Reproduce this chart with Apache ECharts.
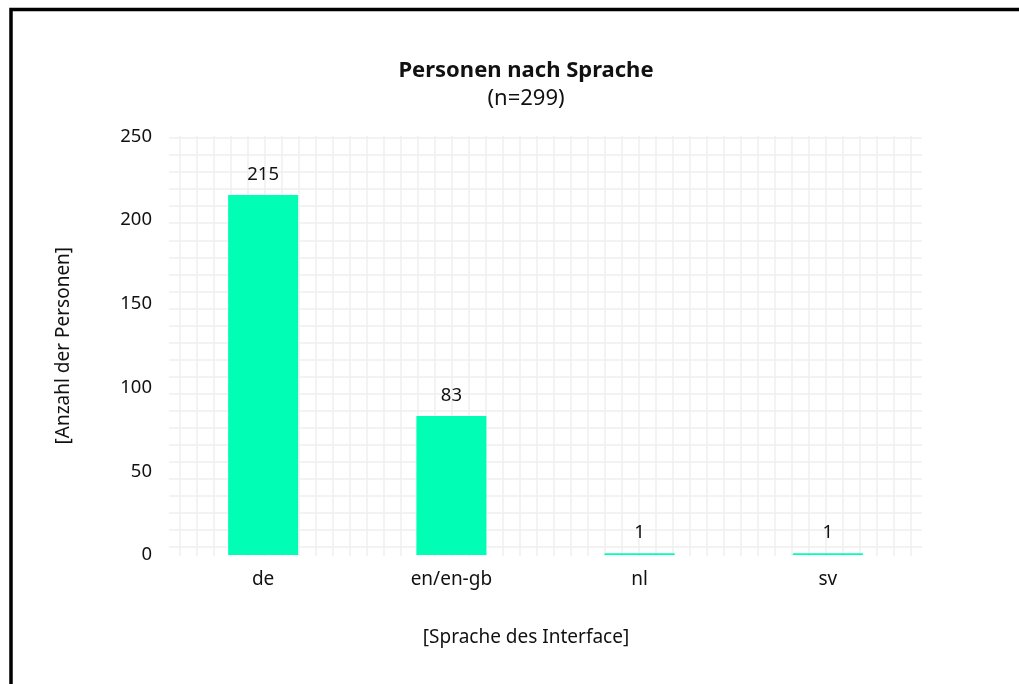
<!DOCTYPE html>
<html>
<head>
<meta charset="utf-8">
<script src="https://cdn.jsdelivr.net/npm/echarts@6/dist/echarts.min.js"></script>
<style>html,body{margin:0;padding:0;background:#fff;}#c{width:1019px;height:684px;}</style>
</head>
<body>
<div id="c"></div>
<script>
const categories = ['de', 'en/en-gb', 'nl', 'sv'];
const personen = [215, 83, 1, 1];
const yMin = 0, yMax = 250, yStep = 50;
const titleText = 'Personen nach Sprache';
const subText = '(n=299)';
const xName = '[Sprache des Interface]';
const yName = '[Anzahl der Personen]';

const FONT = 'Noto Sans';
const gridColor = '#efefef';
const chart = echarts.init(document.getElementById('c'), null, {renderer: 'canvas'});
const hidden = {axisLine:{show:false}, axisTick:{show:false}, axisLabel:{show:false}};
chart.setOption({
  backgroundColor: '#fff',
  animation: false,
  textStyle: {fontFamily: FONT},
  graphic: [{
    type: 'rect', silent: true, z: 100,
    shape: {x: 11, y: 9.5, width: 1200, height: 900},
    style: {fill: 'none', stroke: '#000', lineWidth: 3.5}
  }],
  title: [{
    text: titleText, subtext: subText,
    left: 521, top: 55, textAlign: 'center', itemGap: 6,
    textStyle: {fontFamily: FONT, fontSize: 22, fontWeight: 'bold', color: '#111'},
    subtextStyle: {fontFamily: FONT, fontSize: 22, color: '#111'}
  }, {
    text: xName, left: 521, top: 623, textAlign: 'center',
    textStyle: {fontFamily: FONT, fontSize: 19, fontWeight: 'normal', color: '#111'}
  }],
  grid: [
    {left: 169, right: 97, top: 136.4, bottom: 129},
    {left: 180, right: 108, top: 136, bottom: 128},
    {left: 169, right: 97, top: 138, bottom: 137}
  ],
  xAxis: [
    {type: 'category', gridIndex: 0, data: categories,
     axisLine:{show:false}, axisTick:{show:false},
     axisLabel:{fontFamily: FONT, fontSize: 19, color: '#111', margin: 15}},
    Object.assign({type: 'value', gridIndex: 1, min: 0, max: 43, interval: 1,
     splitLine:{show:true, lineStyle:{color: gridColor, width: 1.5}}}, hidden),
    Object.assign({type: 'value', gridIndex: 2, min: 0, max: 1, splitLine:{show:false}}, hidden)
  ],
  yAxis: [
    {type: 'value', gridIndex: 0, min: yMin, max: yMax, interval: yStep,
     name: yName, nameLocation: 'middle', nameGap: 96, nameRotate: 90,
     nameTextStyle: {fontFamily: FONT, fontSize: 19, color: '#111'},
     axisLine:{show:false}, axisTick:{show:false}, splitLine:{show:false},
     axisLabel:{fontFamily: FONT, fontSize: 18.5, color: '#111', margin: 17}},
    Object.assign({type: 'value', gridIndex: 1, min: 0, max: 1, splitLine:{show:false}}, hidden),
    Object.assign({type: 'value', gridIndex: 2, min: 0, max: 24, interval: 1,
     splitLine:{show:true, lineStyle:{color: gridColor, width: 1.5}}}, hidden)
  ],
  series: [{
    type: 'bar', xAxisIndex: 0, yAxisIndex: 0, data: personen,
    barWidth: 70, z: 5,
    itemStyle: {color: '#00ffb4'},
    label: {show: true, position: 'top', distance: 11,
      fontFamily: FONT, fontSize: 18.5, color: '#111'}
  }]
});
</script>
</body>
</html>
